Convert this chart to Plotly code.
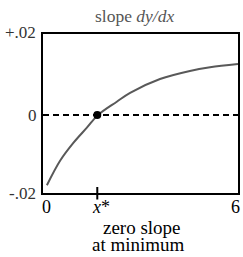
import plotly.graph_objects as go

# data
curve_x = [0.12, 0.53, 0.94, 1.35, 1.69, 2.27, 2.68, 3.60, 4.52, 5.14, 6.0]
curve_y = [-0.0173, -0.0112, -0.0068, -0.0031, 0.0, 0.0033, 0.0055, 0.0089, 0.0109, 0.0118, 0.0126]
x_star = 1.67
y_tick_labels = ["+.02", "0", "-.02"]
x_tick_labels = ["0", "<i>x</i>*", "6"]
title_text = "slope <i>dy/dx</i>"
note_lines = ["zero slope", "at minimum"]

font = "Liberation Serif"
L, R, T, B = 43, 5, 34, 64
W, H = 243, 257
PW, PH = W - L - R, H - T - B

fig = go.Figure()
fig.add_trace(go.Scatter(x=curve_x, y=curve_y, mode="lines",
                         line=dict(color="#595959", width=2, shape="spline", smoothing=1.0),
                         hoverinfo="skip"))
fig.add_trace(go.Scatter(x=[x_star], y=[0], mode="markers",
                         marker=dict(color="black", size=8), hoverinfo="skip"))

fig.add_shape(type="line", x0=0, x1=6, y0=0, y1=0,
              line=dict(color="black", width=2, dash="6px,4px"), layer="below")
fig.add_shape(type="line", xref="x", yref="paper", x0=x_star, x1=x_star,
              y0=-6.5 / PH, y1=6 / PH, line=dict(color="black", width=2))

fig.update_layout(
    width=W, height=H,
    margin=dict(l=L, r=R, t=T, b=B, autoexpand=False),
    paper_bgcolor="white", plot_bgcolor="white",
    showlegend=False,
    font=dict(family=font, size=17, color="black"),
    xaxis=dict(range=[0, 6], showgrid=False, zeroline=False, showline=True, mirror=True,
               linecolor="black", linewidth=2, showticklabels=False, ticks=""),
    yaxis=dict(range=[-0.0192, 0.0200], showgrid=False, zeroline=False, showline=True, mirror=True,
               linecolor="black", linewidth=2, showticklabels=False, ticks=""),
)

def pix(text, px, py, size, color="black", xanchor="center"):
    # px, py are page pixel positions; convert to paper-relative shifts
    fig.add_annotation(text=text, xref="paper", yref="paper", x=0, y=0,
                       xshift=px - L, yshift=(H - B) - py,
                       xanchor=xanchor, yanchor="middle", showarrow=False,
                       font=dict(family=font, size=size, color=color))

# title
pix(title_text, 134, 16, 17.5, color="#555555")
# y tick labels
pix(y_tick_labels[0], 38, 32, 17, color="#333333", xanchor="right")
pix(y_tick_labels[1], 39, 115, 17, color="#333333", xanchor="right")
pix(y_tick_labels[2], 38, 193, 17, color="#333333", xanchor="right")
# x tick labels
pix(x_tick_labels[0], 46, 207, 18)
pix(x_tick_labels[1], 101, 207, 18)
pix(x_tick_labels[2], 235, 207, 18)
# note
pix(note_lines[0], 142, 227, 19)
pix(note_lines[1], 138, 244, 19)

fig.write_html("out.html", config={"displayModeBar": False},
               post_script="document.body.style.margin='0';document.body.style.overflow='hidden';")
